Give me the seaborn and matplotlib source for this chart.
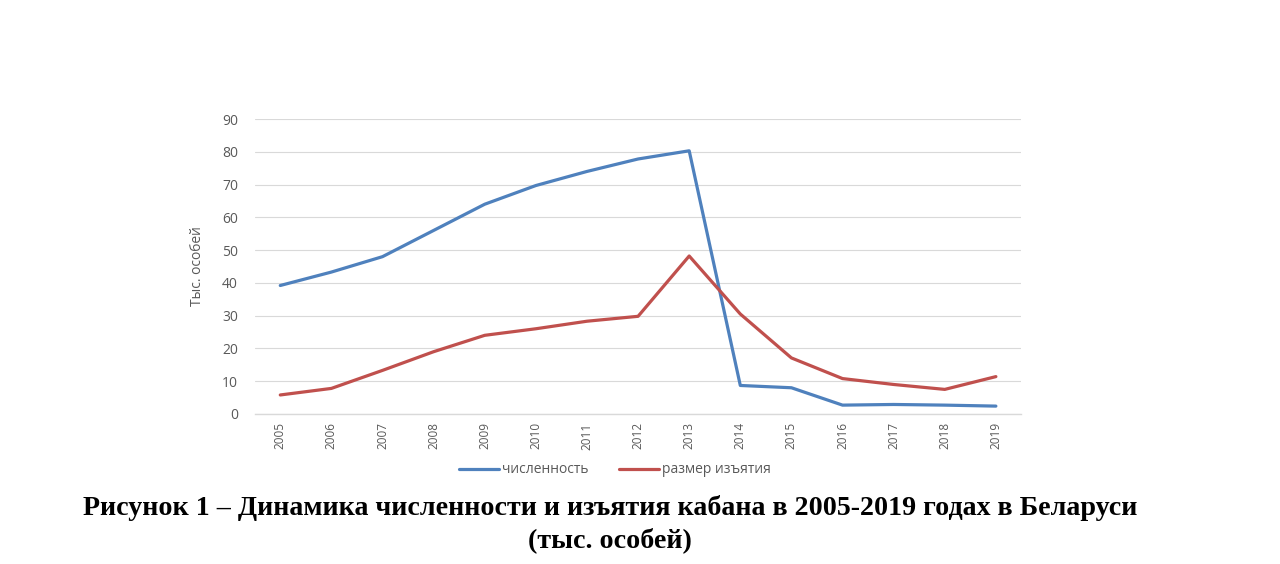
import numpy as np
import pandas as pd
import matplotlib
matplotlib.use("Agg")
import matplotlib.pyplot as plt
import seaborn as sns

years = [str(y) for y in range(2005, 2020)]
chislennost = [39.2, 43.3, 48.0, 56.0, 64.0, 69.7, 74.0, 77.8, 80.3, 8.7, 8.0, 2.7, 2.9, 2.7, 2.4]
izyatie = [5.8, 7.8, 13.3, 19.0, 24.0, 26.0, 28.3, 29.8, 48.2, 30.5, 17.1, 10.8, 9.0, 7.5, 11.4]
series_names = ["численность", "размер изъятия"]
colors = ["#4F81BD", "#C0504D"]

df = pd.DataFrame({
    "year": years * 2,
    "value": chislennost + izyatie,
    "series": [series_names[0]] * len(years) + [series_names[1]] * len(years),
})

sns.set_theme(style="white")
plt.rcParams["font.family"] = ["Open Sans", "DejaVu Sans"]

fig = plt.figure(figsize=(12.8, 5.64), dpi=100)
ax = fig.add_axes([0.199, 0.266, 0.599, 0.523])

sns.lineplot(data=df, x="year", y="value", hue="series", palette=colors,
             linewidth=2.3, sort=False, ax=ax)

ax.set_xlim(-0.5, len(years) - 0.5)
ax.set_ylim(0, 90)
ax.set_yticks(np.arange(0, 91, 10))
ax.yaxis.grid(True, color="#D9D9D9", linewidth=0.8)
ax.set_axisbelow(True)
for s in ["top", "right", "left"]:
    ax.spines[s].set_visible(False)
ax.spines["bottom"].set_color("#D9D9D9")
ax.spines["bottom"].set_linewidth(1.0)

ax.tick_params(axis="y", colors="#595959", labelsize=10, length=0, pad=12)
ax.tick_params(axis="x", colors="#595959", labelsize=8.5, length=0, pad=6)
plt.setp(ax.get_xticklabels(), rotation=90)

ax.set_xlabel("")
ax.set_ylabel("Тыс. особей", color="#595959", fontsize=10, labelpad=12)

leg = ax.legend(loc="upper center", bbox_to_anchor=(0.47, -0.122), ncol=2,
                frameon=False, fontsize=10, handlelength=2.9, columnspacing=2.2,
                handletextpad=0.2)
for t in leg.get_texts():
    t.set_color("#595959")

fig.text(0.4765, 0.099, "Рисунок 1 – Динамика численности и изъятия кабана в 2005-2019 годах в Беларуси",
         ha="center", va="center", fontsize=20.2, fontweight="bold",
         family="Liberation Serif", color="black")
fig.text(0.4765, 0.042, "(тыс. особей)", ha="center", va="center", fontsize=20.2,
         fontweight="bold", family="Liberation Serif", color="black")

fig.savefig("out.png", dpi=100)
